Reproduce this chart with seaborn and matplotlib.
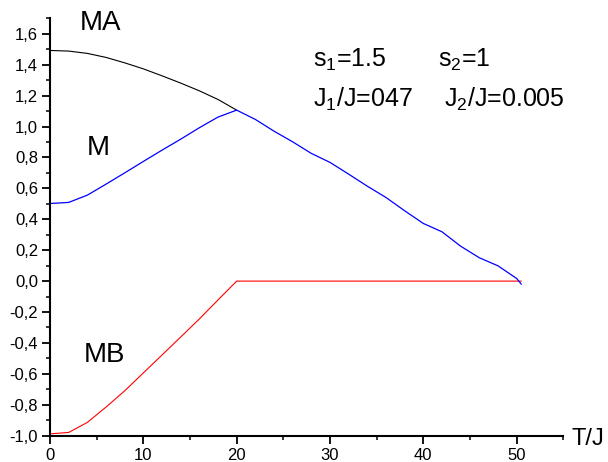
import matplotlib
matplotlib.use("Agg")
import matplotlib.pyplot as plt
import seaborn as sns
import pandas as pd
from matplotlib.ticker import MultipleLocator, FuncFormatter

# Data
T_ma = [0, 2, 4, 6, 8, 10, 12, 14, 16, 18, 20]
MA = [1.492, 1.488, 1.473, 1.447, 1.412, 1.373, 1.328, 1.281, 1.231, 1.175, 1.106]

T_m = [0, 2, 4, 6, 8, 10, 12, 14, 16, 18, 20, 22, 24, 26, 28, 30, 32, 34, 36, 38,
       40, 42, 44, 46, 48, 50, 50.5]
M = [0.502, 0.509, 0.556, 0.627, 0.700, 0.774, 0.847, 0.918, 0.992, 1.061, 1.106,
     1.046, 0.970, 0.901, 0.826, 0.768, 0.692, 0.614, 0.541, 0.455,
     0.373, 0.319, 0.226, 0.151, 0.099, 0.017, -0.02]

T_mb = [0, 2, 4, 6, 8, 10, 12, 14, 16, 18, 20, 50.5]
MB = [-0.988, -0.979, -0.914, -0.815, -0.710, -0.594, -0.478, -0.362, -0.245, -0.122, 0.0, 0.0]

x_ticks = [0, 10, 20, 30, 40, 50]
y_ticks = [-1.0, -0.8, -0.6, -0.4, -0.2, 0.0, 0.2, 0.4, 0.6, 0.8, 1.0, 1.2, 1.4, 1.6]

sns.set_style("ticks")
plt.rcParams['font.family'] = ['Liberation Sans', 'DejaVu Sans']
plt.rcParams['text.color'] = 'black'
plt.rcParams['xtick.labelsize'] = 12
plt.rcParams['ytick.labelsize'] = 12
plt.rcParams['xtick.color'] = 'black'
plt.rcParams['ytick.color'] = 'black'
plt.rcParams['mathtext.fontset'] = 'custom'
plt.rcParams['mathtext.rm'] = 'Liberation Sans'
plt.rcParams['mathtext.it'] = 'Liberation Sans'
plt.rcParams['mathtext.default'] = 'regular'

H = 462
fig = plt.figure(figsize=(6.08, 4.62), dpi=100)
ax = fig.add_axes([50 / 608, 1 - 435.7 / H, (563.3 - 50) / 608, (435.7 - 18.3) / H])

df_ma = pd.DataFrame({"T": T_ma, "v": MA})
df_m = pd.DataFrame({"T": T_m, "v": M})
df_mb = pd.DataFrame({"T": T_mb, "v": MB})

sns.lineplot(data=df_ma, x="T", y="v", ax=ax, color="black", lw=0.8, sort=False)
sns.lineplot(data=df_mb, x="T", y="v", ax=ax, color="#ff0000", lw=0.8, sort=False)
sns.lineplot(data=df_m, x="T", y="v", ax=ax, color="#0000ff", lw=0.9, sort=False)

ax.set_xlim(0, 55)
ax.set_ylim(-1.0, 1.7)
ax.set_xticks(x_ticks)
ax.set_yticks(y_ticks)
ax.xaxis.set_minor_locator(MultipleLocator(5))
ax.yaxis.set_minor_locator(MultipleLocator(0.1))
ax.yaxis.set_major_formatter(FuncFormatter(lambda v, p: f"{v:.1f}".replace(".", ",").replace("-0,0", "0,0")))
ax.xaxis.set_major_formatter(FuncFormatter(lambda v, p: f"{v:.0f}"))
ax.set_xlabel("")
ax.set_ylabel("")

for s in ["top", "right"]:
    ax.spines[s].set_visible(False)
for s in ["left", "bottom"]:
    ax.spines[s].set_linewidth(1.5)
    ax.spines[s].set_color("black")

ax.tick_params(which="major", direction="out", length=6, width=1.3, labelsize=12,
               colors="black", labelcolor="black", pad=2.5)
ax.tick_params(which="minor", direction="out", length=3, width=1.1, colors="black")

fs = 20
fig.text(80 / 608, 1 - 30 / H, "MA", fontsize=fs, va="baseline", ha="left", color="black")
fig.text(87 / 608, 1 - 155 / H, "M", fontsize=fs, va="baseline", ha="left", color="black")
fig.text(84 / 608, 1 - 362 / H, "MB", fontsize=fs, va="baseline", ha="left", color="black")
fig.text(571 / 608, 1 - 445 / H, "T/J", fontsize=17, va="baseline", ha="left", color="black")

fs2 = 18
fig.text(313 / 608, 1 - 67 / H, r"s$_1$=1.5", fontsize=fs2, va="baseline", ha="left", color="black")
fig.text(438 / 608, 1 - 67 / H, r"s$_2$=1", fontsize=fs2, va="baseline", ha="left", color="black")
fig.text(313 / 608, 1 - 107 / H, r"J$_1$/J=047", fontsize=fs2, va="baseline", ha="left", color="black")
fig.text(444 / 608, 1 - 107 / H, r"J$_2$/J=0.005", fontsize=fs2, va="baseline", ha="left", color="black")

fig.savefig("out.png", dpi=100)
